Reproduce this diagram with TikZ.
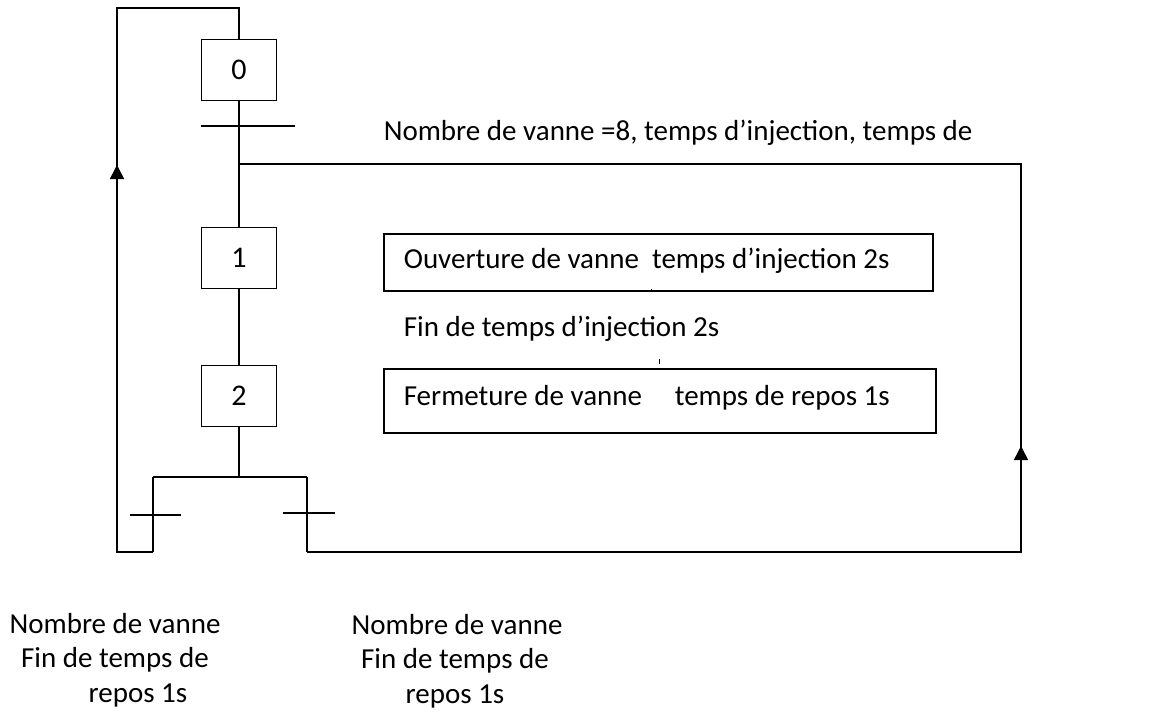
\documentclass[tikz,border=0pt]{standalone}
\usepackage{fontspec}
\setmainfont{Carlito}
\usetikzlibrary{arrows.meta}
\begin{document}
\begin{tikzpicture}[x=1pt,y=-1pt,line width=1.6pt,
  stepbox/.style={draw,rectangle,minimum width=75pt,minimum height=61pt,inner sep=0pt,font=\fontsize{30}{30}\selectfont},
  actbox/.style={draw,rectangle,inner sep=0pt,anchor=north west},
  lbl/.style={font=\fontsize{29}{29}\selectfont,inner sep=0pt},
  arr/.style={-{Triangle[length=14pt,width=14pt]}},
  tr/.style={line width=1.6pt}]
\useasboundingbox (0,0) rectangle (1161,720);
% steps
\node[stepbox] (s0) at (239,70) {0};
\node[stepbox] (s1) at (239,258) {1};
\node[stepbox] (s2) at (239,396) {2};
% actions
\node[actbox,minimum width=549pt,minimum height=57pt] (a1) at (383,233) {};
\node[actbox,minimum width=552pt,minimum height=64pt] (a2) at (383,368) {};
\node[lbl,anchor=west] (a1t) at (403,261) {Ouverture de vanne\ \ temps d’injection 2s};
\node[lbl,anchor=west] (a2t) at (403,398) {Fermeture de vanne\ \ \ \ \ temps de repos 1s};
% coordinates
\coordinate (j) at (239,164);
\coordinate (top) at (239,8);
\coordinate (tl) at (117,8);
\coordinate (bl) at (117,552);
\coordinate (la) at (117,165);
\coordinate (div) at (239,477);
\coordinate (dl) at (153,477);
\coordinate (dr) at (307,477);
\coordinate (l1) at (153,552);
\coordinate (r1) at (307,552);
\coordinate (rb) at (1021,552);
\coordinate (rt) at (1021,164);
\coordinate (ra) at (1021,446);
% main line
\draw (s0.south) -- (s1.north);
\draw (s1.south) -- (s2.north);
\draw (s2.south) -- (div);
% transition under 0
\draw[tr] (201,126) -- (295,126);
% divergence
\draw (dl) -- (dr);
\draw (dl) -- (l1);
\draw (dr) -- (r1);
\draw[tr] (130,515) -- (181,515);
\draw[tr] (283,513) -- (335,513);
% left loop
\draw (l1) -- (bl) -- (tl) -- (top) -- (s0.north);
\draw[arr] (bl) -- (la);
% right loop
\draw (r1) -- (rb) -- (rt) -- (j);
\draw[arr] (rb) -- (ra);
% tiny ticks
\draw[line width=1pt] (651,289) -- (651,292);
\draw[line width=1pt] (659,359) -- (659,364);
% labels
\node[lbl,anchor=west] (tx0) at (383,133) {Nombre de vanne =8, temps d’injection, temps de};
\node[lbl,anchor=west] (tx1) at (403,329) {Fin de temps d’injection 2s};
\node[lbl,anchor=base] (txl1) at (115,633) {Nombre de vanne};
\node[lbl,anchor=base] (txl2) at (115,667) {Fin de temps de};
\node[lbl,anchor=base] (txl3) at (138,702) {repos 1s};
\node[lbl,anchor=base] (txr1) at (457,634) {Nombre de vanne};
\node[lbl,anchor=base] (txr2) at (455,668) {Fin de temps de};
\node[lbl,anchor=base] (txr3) at (455,703) {repos 1s};
\end{tikzpicture}
\end{document}
